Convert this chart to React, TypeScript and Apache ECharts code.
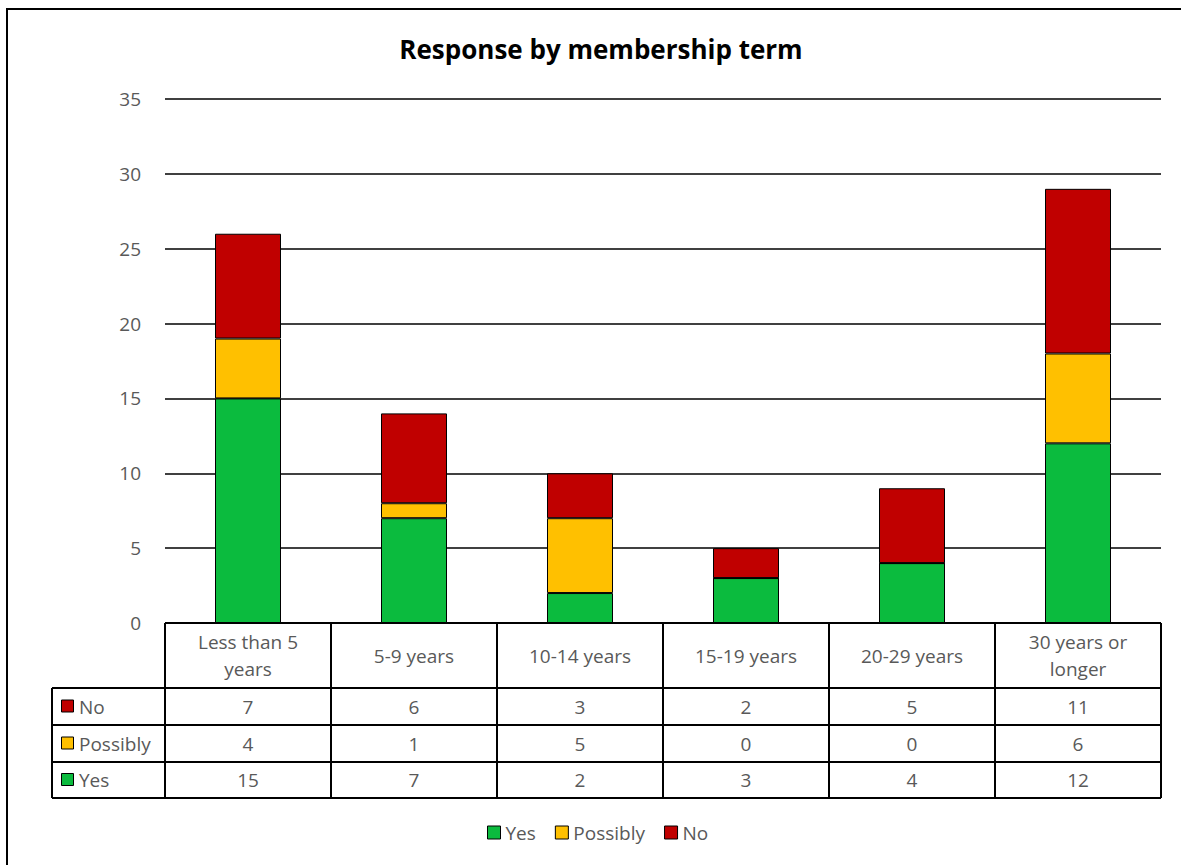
import React, { useEffect, useRef } from "react";
import * as echarts from "echarts";

const categories = ["Less than 5 years", "5-9 years", "10-14 years", "15-19 years", "20-29 years", "30 years or longer"];
const categoryLines = [["Less than 5", "years"], ["5-9 years"], ["10-14 years"], ["15-19 years"], ["20-29 years"], ["30 years or", "longer"]];
const yesValues = [15, 7, 2, 3, 4, 12];
const possiblyValues = [4, 1, 5, 0, 0, 6];
const noValues = [7, 6, 3, 2, 5, 11];
const seriesNames = ["Yes", "Possibly", "No"];
const colors = ["#0BBB3E", "#FFC000", "#C00000"];

const W = 1181;
const H = 865;
const GL = 165;
const GR = 1161;
const GT = 99;
const GB = 623;
const FONT = "'Open Sans', 'Noto Sans', sans-serif";
const GRAY = "#595959";
const FS = 19;

export default function App() {
  const ref = useRef<HTMLDivElement>(null);
  useEffect(() => {
    if (!ref.current) return;
    const chart = echarts.init(ref.current, null, { renderer: "svg" });
    const n = categories.length;
    const cw = (GR - GL) / n;
    const headerBottom = 688;
    const rowH = [37, 37, 36];
    const rowTops = [headerBottom, headerBottom + rowH[0], headerBottom + rowH[0] + rowH[1]];
    const tableBottom = rowTops[2] + rowH[2];
    const tableLeft = 52;
    const lineStyle = { stroke: "#000", lineWidth: 2 };
    const graphics: any[] = [];
    graphics.push({ type: "rect", shape: { x: 7, y: 9, width: W + 20, height: H + 20 }, style: { fill: "none", stroke: "#000", lineWidth: 2 }, silent: true });
    graphics.push({
      type: "text",
      x: 601,
      y: 49,
      style: { text: "Response by membership term", fill: "#000", font: `bold 26px ${FONT}`, align: "center", verticalAlign: "middle" },
    });
    for (let i = 0; i <= n; i++) {
      const x = GL + i * cw;
      graphics.push({ type: "line", shape: { x1: x, y1: GB, x2: x, y2: tableBottom }, style: lineStyle });
    }
    graphics.push({ type: "line", shape: { x1: tableLeft, y1: headerBottom, x2: tableLeft, y2: tableBottom }, style: lineStyle });
    graphics.push({ type: "line", shape: { x1: GL, y1: GB, x2: GR, y2: GB }, style: lineStyle });
    [headerBottom, rowTops[1], rowTops[2], tableBottom].forEach((y) => {
      graphics.push({ type: "line", shape: { x1: tableLeft, y1: y, x2: GR, y2: y }, style: lineStyle });
    });
    categoryLines.forEach((lines, i) => {
      graphics.push({
        type: "text",
        x: GL + (i + 0.5) * cw,
        y: (GB + headerBottom) / 2,
        style: { text: lines.join("\n"), fill: GRAY, font: `${FS}px ${FONT}`, align: "center", verticalAlign: "middle", lineHeight: 27 },
      });
    });
    const rows = [
      { name: seriesNames[2], color: colors[2], values: noValues },
      { name: seriesNames[1], color: colors[1], values: possiblyValues },
      { name: seriesNames[0], color: colors[0], values: yesValues },
    ];
    rows.forEach((r, ri) => {
      const cy = rowTops[ri] + rowH[ri] / 2;
      graphics.push({ type: "rect", shape: { x: 61.5, y: cy - 6.5, width: 12, height: 12 }, style: { fill: r.color, stroke: "#000", lineWidth: 1 } });
      graphics.push({ type: "text", x: 79, y: cy, style: { text: r.name, fill: GRAY, font: `${FS}px ${FONT}`, align: "left", verticalAlign: "middle" } });
      r.values.forEach((v, i) => {
        graphics.push({ type: "text", x: GL + (i + 0.5) * cw, y: cy, style: { text: String(v), fill: GRAY, font: `${FS}px ${FONT}`, align: "center", verticalAlign: "middle" } });
      });
    });

    const mk = (name: string, data: number[], color: string) => ({
      name,
      type: "bar",
      stack: "total",
      data,
      barWidth: 66,
      itemStyle: { color, borderColor: "#000", borderWidth: 1 },
    });

    chart.setOption({
      animation: false,
      backgroundColor: "#fff",
      legend: {
        data: seriesNames,
        top: 818,
        left: 482,
        icon: "rect",
        itemWidth: 13,
        itemHeight: 13,
        itemGap: 19,
        itemStyle: { borderColor: "#000", borderWidth: 1 },
        textStyle: { fontFamily: FONT, fontSize: FS, color: GRAY },
      },
      grid: { left: GL, right: W - GR, top: GT, bottom: H - GB, containLabel: false },
      xAxis: {
        type: "category",
        data: categories,
        axisLine: { show: false },
        axisTick: { show: false },
        axisLabel: { show: false },
      },
      yAxis: {
        type: "value",
        min: 0,
        max: 35,
        interval: 5,
        axisLine: { show: false },
        axisTick: { show: false },
        axisLabel: { fontFamily: FONT, fontSize: FS, color: GRAY, margin: 24 },
        splitLine: { lineStyle: { color: "#000", width: 1.5 } },
      },
      series: [mk(seriesNames[0], yesValues, colors[0]), mk(seriesNames[1], possiblyValues, colors[1]), mk(seriesNames[2], noValues, colors[2])],
      graphic: graphics,
    });
    return () => chart.dispose();
  }, []);
  return <div ref={ref} style={{ position: "fixed", left: 0, top: 0, width: W, height: H }} />;
}
